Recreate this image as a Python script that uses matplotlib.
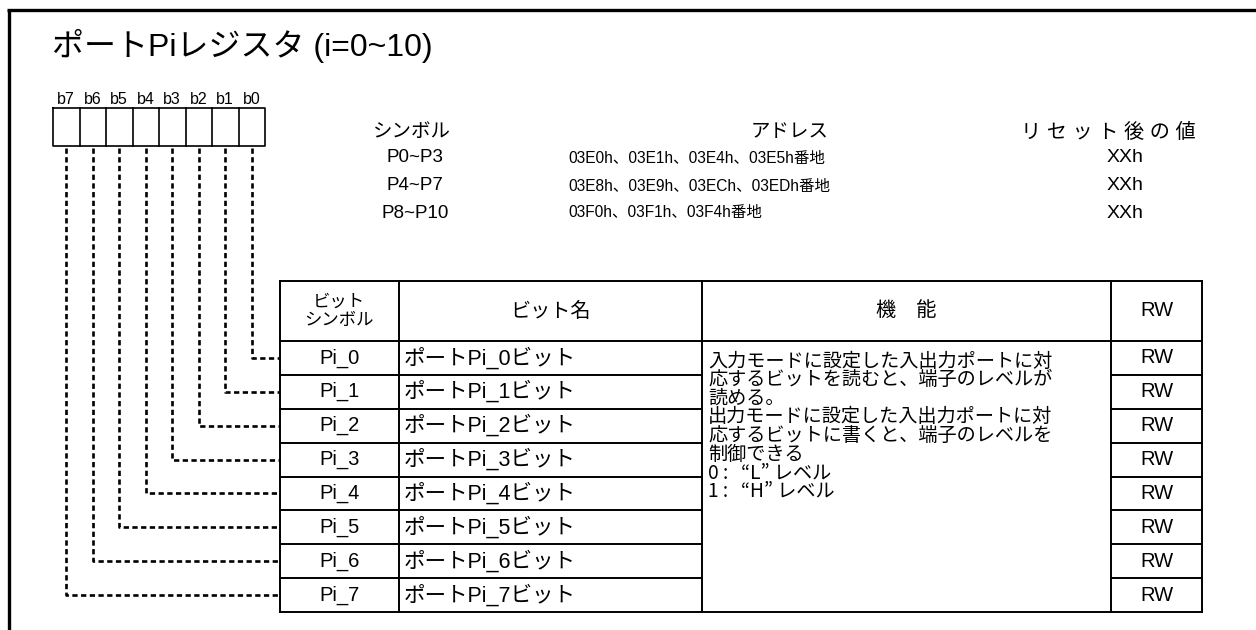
import matplotlib
matplotlib.use("Agg")
import matplotlib.pyplot as plt
from matplotlib import font_manager

FONT = ['Liberation Sans', 'Noto Sans CJK JP']
plt.rcParams['font.family'] = FONT

# ---- content ----
title = "ポートPiレジスタ (i=0~10)"
bit_labels = ["b7", "b6", "b5", "b4", "b3", "b2", "b1", "b0"]
info_headers = ["シンボル", "アドレス", "リセット後の値"]
info_symbols = ["P0~P3", "P4~P7", "P8~P10"]
info_addresses = ["03E0h、03E1h、03E4h、03E5h番地",
                  "03E8h、03E9h、03ECh、03EDh番地",
                  "03F0h、03F1h、03F4h番地"]
info_reset = ["XXh", "XXh", "XXh"]
table_headers = ["ビット\nシンボル", "ビット名", "機　能", "RW"]
bit_symbols = ["Pi_0", "Pi_1", "Pi_2", "Pi_3", "Pi_4", "Pi_5", "Pi_6", "Pi_7"]
bit_names = ["ポートPi_0ビット", "ポートPi_1ビット", "ポートPi_2ビット", "ポートPi_3ビット",
             "ポートPi_4ビット", "ポートPi_5ビット", "ポートPi_6ビット", "ポートPi_7ビット"]
rw = ["RW"] * 8
function_lines = ["入力モードに設定した入出力ポートに対",
                  "応するビットを読むと、端子のレベルが",
                  "読める。",
                  "出力モードに設定した入出力ポートに対",
                  "応するビットに書くと、端子のレベルを",
                  "制御できる",
                  "0 :   “L” レベル",
                  "1 :   “H” レベル"]

# narrow face for the address lines if available
installed = {f.name for f in font_manager.fontManager.ttflist}
if 'Liberation Sans Narrow' in installed:
    ADDR_FONT, ADDR_SIZE = ['Liberation Sans Narrow', 'Noto Sans CJK JP'], 12.8
else:
    ADDR_FONT, ADDR_SIZE = FONT, 11.2

W, H = 1256, 630
fig = plt.figure(figsize=(W / 100, H / 100), dpi=100)
ax = fig.add_axes([0, 0, 1, 1])
ax.set_xlim(0, W)
ax.set_ylim(H, 0)
ax.axis('off')

k = 'black'
# outer frame (left and top)
ax.plot([8.5, 8.5], [H, 9.5], color=k, lw=2.4, solid_capstyle='butt')
ax.plot([7.3, W], [9.5, 9.5], color=k, lw=2.4, solid_capstyle='butt')

# title
ax.text(52, 46, title, fontsize=23, va='center', ha='left')

# register boxes
bx0, bx1, by0, by1 = 53, 265, 108, 146
nb = len(bit_labels)
bw = (bx1 - bx0) / nb
ax.plot([bx0, bx1, bx1, bx0, bx0], [by0, by0, by1, by1, by0], color=k, lw=1.2)
for i in range(1, nb):
    ax.plot([bx0 + i * bw] * 2, [by0, by1], color=k, lw=1.2)
for i, lab in enumerate(bit_labels):
    ax.text(bx0 + (i + 0.5) * bw, 99, lab, fontsize=11.5, ha='center', va='center')

# table geometry
tx = [279.5, 399, 702, 1111, 1202]
ty_head0, ty_head1, ty_end = 281, 341, 612
nrows = len(bit_symbols)
rh = (ty_end - ty_head1) / nrows
row_y = [ty_head1 + j * rh for j in range(nrows + 1)]

# dashed connectors
for i, lab in enumerate(bit_labels):
    bit = nb - 1 - i
    xc = bx0 + (i + 0.5) * bw
    yc = row_y[bit] + rh / 2
    ax.plot([xc, xc, tx[0]], [by1 + 1.5, yc, yc], color=k, lw=1.9,
            linestyle=(0, (2.0, 1.3)), solid_joinstyle='miter')

# info block
info_y = [132, 158, 186, 213]
ax.text(412, info_y[0], info_headers[0], fontsize=14, ha='center', va='center')
ax.text(790, info_y[0], info_headers[1], fontsize=14, ha='center', va='center')
ax.text(1108, info_y[0], " ".join(info_headers[2]), fontsize=14.5, ha='center', va='center')
for j in range(3):
    ax.text(415, info_y[j + 1], info_symbols[j], fontsize=13.5, ha='center', va='center')
    ax.text(568, info_y[j + 1], info_addresses[j], fontsize=ADDR_SIZE, ha='left', va='center',
            family=ADDR_FONT)
    ax.text(1125, info_y[j + 1], info_reset[j], fontsize=14, ha='center', va='center')

# table lines
lw_t = 1.4
ax.plot([tx[0], tx[-1]], [ty_head0] * 2, color=k, lw=lw_t)
ax.plot([tx[0], tx[-1]], [ty_head1] * 2, color=k, lw=lw_t)
ax.plot([tx[0], tx[-1]], [ty_end] * 2, color=k, lw=lw_t)
for j in range(1, nrows):
    ax.plot([tx[0], tx[2]], [row_y[j]] * 2, color=k, lw=lw_t)
    ax.plot([tx[3], tx[4]], [row_y[j]] * 2, color=k, lw=lw_t)
for x in tx:
    ax.plot([x, x], [ty_head0, ty_end], color=k, lw=lw_t)

# headers
hc = (ty_head0 + ty_head1) / 2
ax.text((tx[0] + tx[1]) / 2, hc, table_headers[0], fontsize=12.5, ha='center', va='center',
        linespacing=1.3)
for c in range(1, 4):
    ax.text((tx[c] + tx[c + 1]) / 2, hc, table_headers[c], fontsize=14.5, ha='center', va='center')

# rows
for j in range(nrows):
    yc = row_y[j] + rh / 2
    ax.text((tx[0] + tx[1]) / 2, yc, bit_symbols[j], fontsize=14.5, ha='center', va='center')
    ax.text(tx[1] + 5, yc, bit_names[j], fontsize=15.5, ha='left', va='center')
    ax.text((tx[3] + tx[4]) / 2, yc, rw[j], fontsize=14.5, ha='center', va='center')

# function description
for n, line in enumerate(function_lines):
    ax.text(tx[2] + 6, 361 + n * 18.6, line, fontsize=13.8, ha='left', va='center',
            family=['Noto Sans CJK JP', 'Liberation Sans'])

fig.savefig("out.png", dpi=100)
